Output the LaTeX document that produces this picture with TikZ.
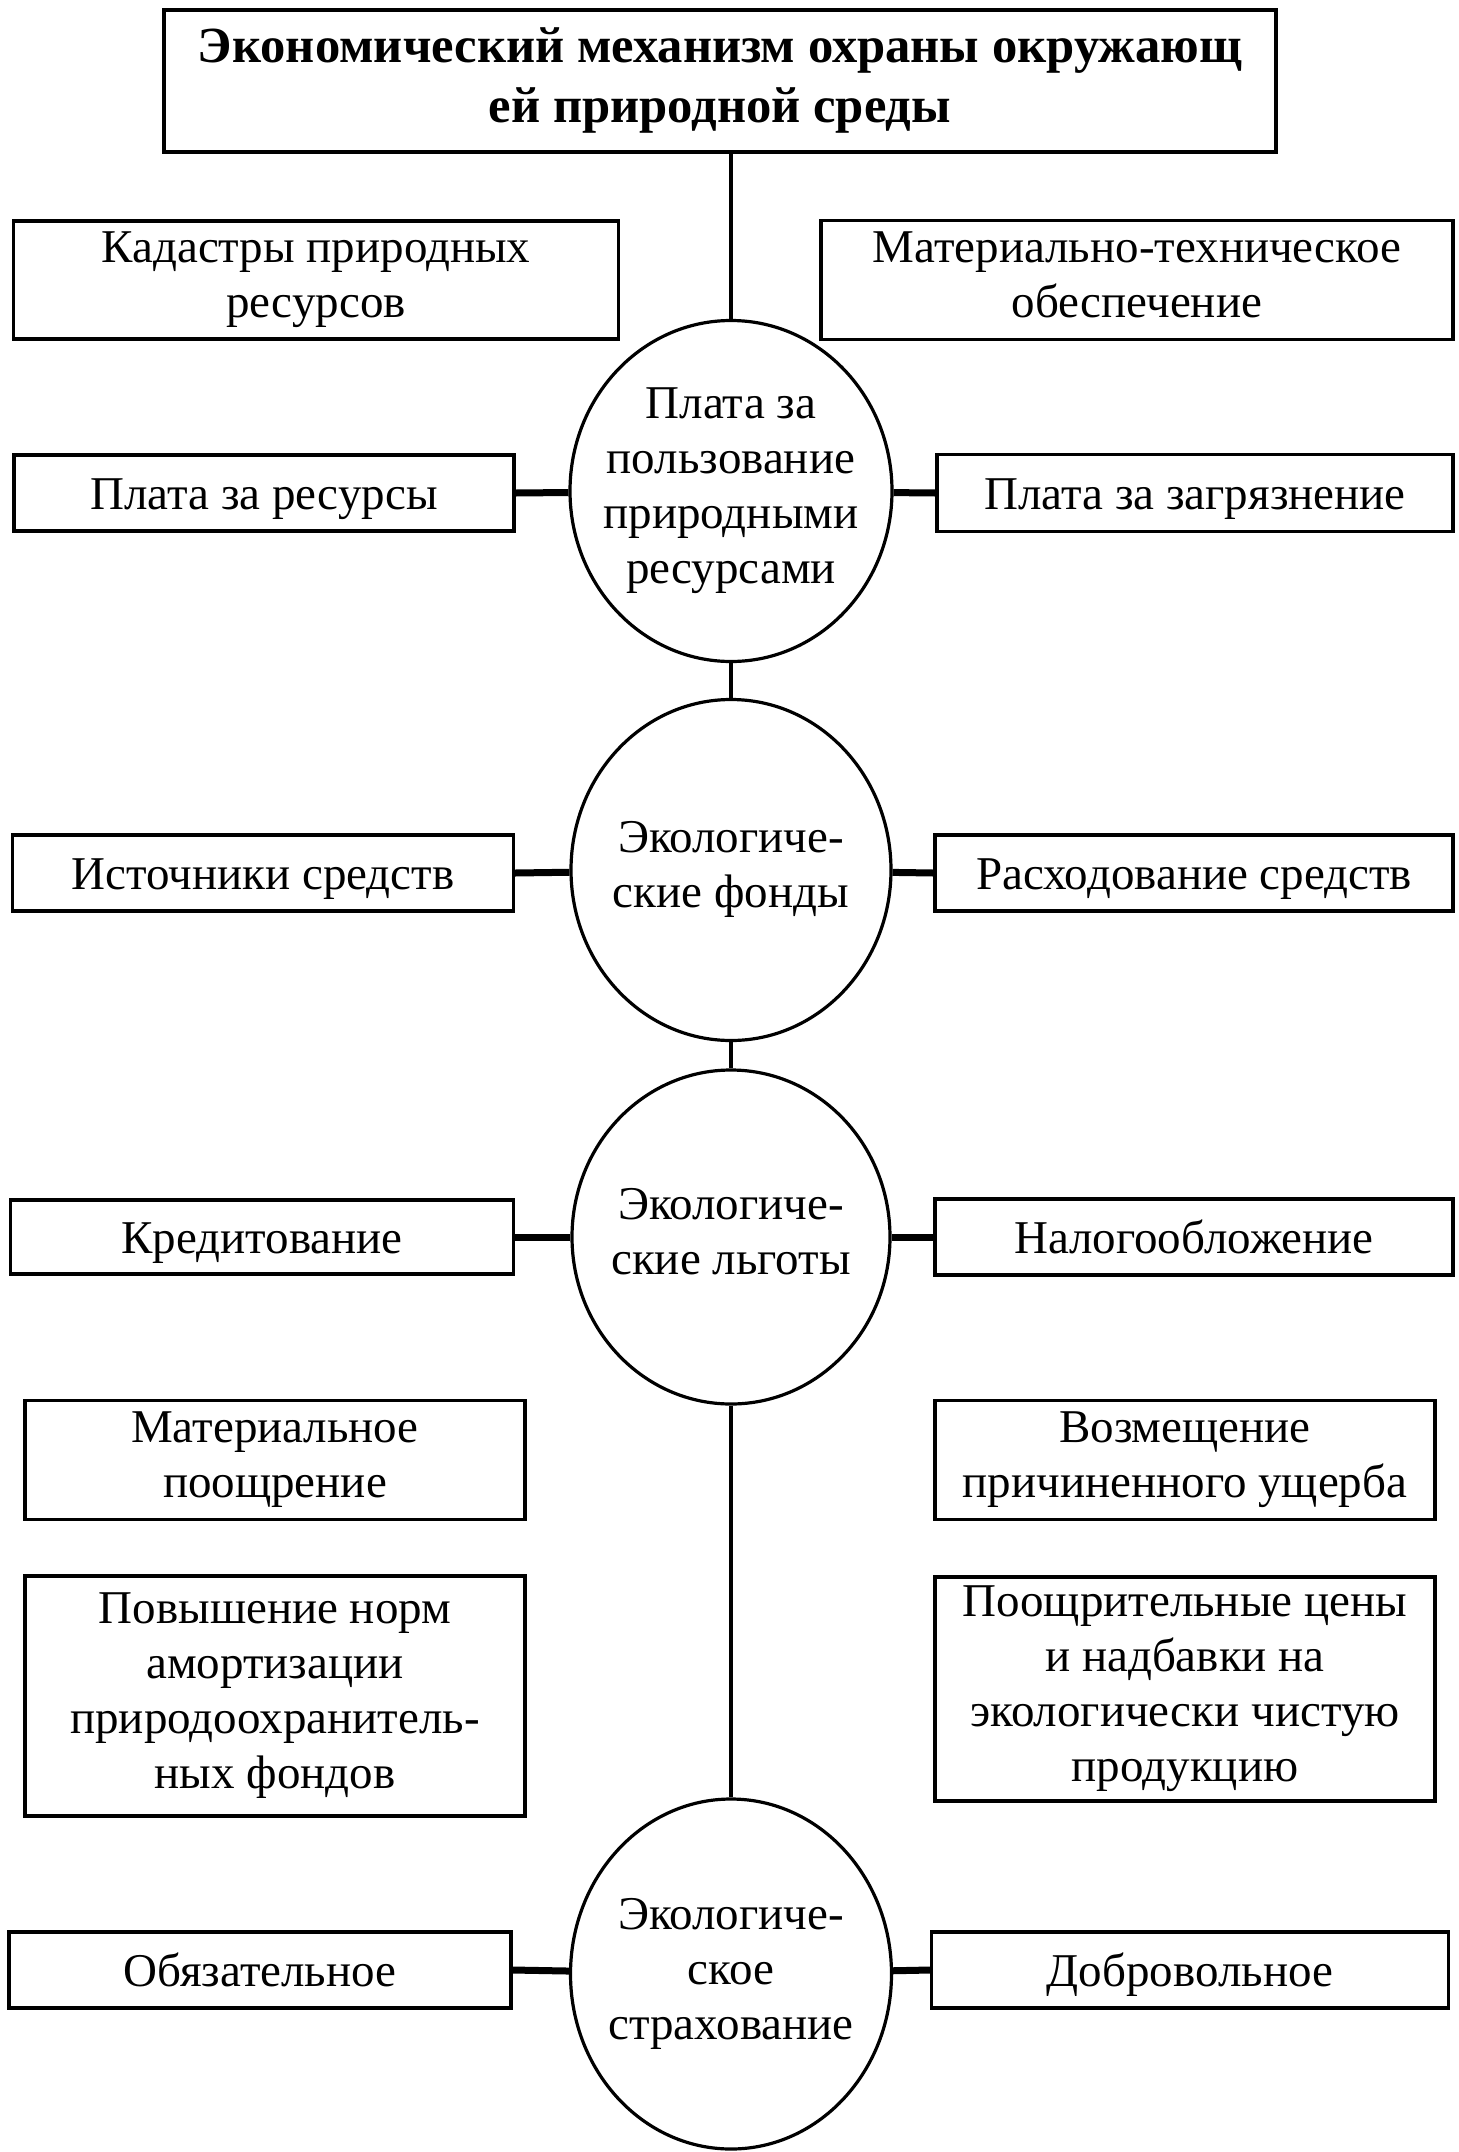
\documentclass[tikz,border=0pt]{standalone}
\usepackage{fontspec}
\setmainfont{Liberation Serif}
\usetikzlibrary{shapes.geometric}

\tikzset{
	txt/.style={font=\fontsize{23.5}{27.5}\selectfont, execute at begin node=\rule{0pt}{21.5pt}, execute at end node=\rule[-5.5pt]{0pt}{1pt}},
	box/.style={draw, line width=1.6pt, align=center, inner sep=0pt, txt},
	oval/.style={draw, ellipse, line width=1.6pt, align=center, inner sep=-30pt, txt},
	dims/.style 2 args={minimum width=#1*0.5pt, minimum height=#2*0.5pt},
	link/.style={line width=2pt},
	stub/.style={line width=3.5pt},
}

\begin{document}
\begin{tikzpicture}[x=0.5pt, y=-0.5pt]
	\useasboundingbox (0,0) rectangle (1458,2152);
	% top
	\node[box, dims={1112}{142}, font=\bfseries\fontsize{25.3}{30}\selectfont] (title) at (720,81) {Экономический механизм охраны окружающ\\ей природной среды};
	\node[box, dims={605}{118}] (kadastr) at (316,280) {Кадастры природных\\ресурсов};
	\node[box, dims={632}{119}] (mattech) at (1137,280) {Материально-техническое\\обеспечение};
	% circles
	\node[oval, dims={322}{341}] (plata) at (731,491) {Плата за\\пользование\\природными\\ресурсами};
	\node[oval, dims={320}{341}] (fondy) at (731,870) {Экологиче-\\ские фонды};
	\node[oval, dims={318}{334}] (lgoty) at (731,1237) {Экологиче-\\ские льготы};
	\node[oval, dims={321}{350}] (strah) at (731,1974) {Экологиче-\\ское\\страхование};
	% side boxes
	\node[box, dims={500}{76}] (res) at (264,493) {Плата за ресурсы};
	\node[box, dims={516}{77}] (zagr) at (1195,493) {Плата за загрязнение};
	\node[box, dims={501}{76}] (ist) at (263,873) {Источники средств};
	\node[box, dims={518}{76}] (rash) at (1194,873) {Расходование средств};
	\node[box, dims={503}{74}] (kred) at (262,1237) {Кредитование};
	\node[box, dims={518}{76}] (nalog) at (1194,1237) {Налогообложение};
	\node[box, dims={500}{119}] (matpoo) at (275,1460) {Материальное\\поощрение};
	\node[box, dims={500}{119}] (vozm) at (1185,1460) {Возмещение\\причиненного ущерба};
	\node[box, dims={500}{240}] (norm) at (275,1696) {Повышение норм\\амортизации\\природоохранитель-\\ных фондов};
	\node[box, dims={500}{224}] (ceny) at (1185,1689) {Поощрительные цены\\и надбавки на\\экологически чистую\\продукцию};
	\node[box, dims={502}{76}] (obyaz) at (260,1970) {Обязательное};
	\node[box, dims={517}{76}] (dobr) at (1190,1970) {Добровольное};
	% links
	\draw[link] (plata.north |- title.south) -- (plata.north);
	\draw[link] (plata) -- (fondy);
	\draw[link] (fondy) -- (lgoty);
	\draw[link] (lgoty) -- (strah);
	\draw[stub] (res.east) -- (plata);
	\draw[stub] (zagr.west) -- (plata);
	\draw[stub] (ist.east) -- (fondy);
	\draw[stub] (rash.west) -- (fondy);
	\draw[stub] (kred.east) -- (lgoty);
	\draw[stub] (nalog.west) -- (lgoty);
	\draw[stub] (obyaz.east) -- (strah);
	\draw[stub] (dobr.west) -- (strah);
\end{tikzpicture}
\end{document}
